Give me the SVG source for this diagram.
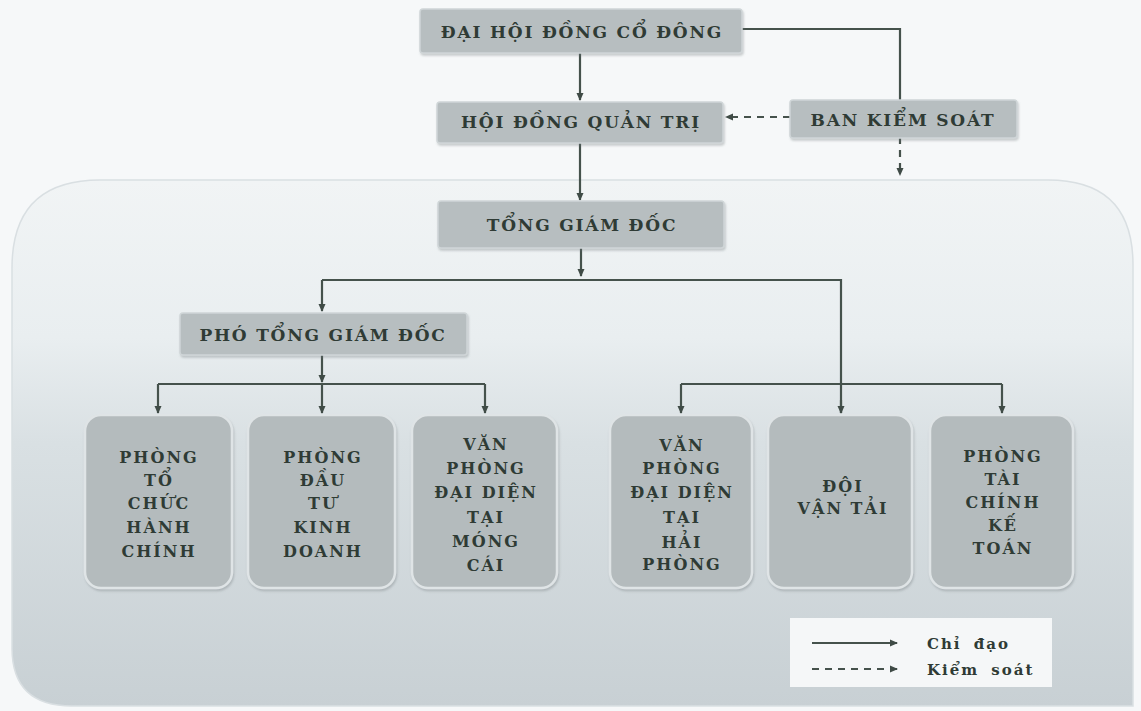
<svg xmlns="http://www.w3.org/2000/svg" width="1141" height="711" viewBox="0 0 1141 711">
<defs>
<linearGradient id="bg" x1="0" y1="0" x2="0" y2="1">
<stop offset="0" stop-color="#f1f4f5"/>
<stop offset="0.3" stop-color="#e9eef0"/>
<stop offset="0.5" stop-color="#d9e0e3"/>
<stop offset="1" stop-color="#c8d0d4"/>
</linearGradient>
<filter id="sh" x="-10%" y="-20%" width="120%" height="150%">
<feDropShadow dx="1" dy="2" stdDeviation="1.2" flood-color="#6d7678" flood-opacity="0.35"/>
</filter>
<marker id="ah" viewBox="0 0 8 8" refX="7" refY="4" markerWidth="8" markerHeight="8" markerUnits="userSpaceOnUse" orient="auto">
<path d="M0,0.5 L8,4 L0,7.5 z" fill="#3f4b46"/>
</marker>
<style>
.t{font-family:"DejaVu Serif","Liberation Serif",serif;font-weight:bold;fill:#2f3b35;text-anchor:middle}
.h{font-size:17px;letter-spacing:1.8px}
.b{font-size:16px;letter-spacing:2px}
.top{fill:#b7bec0;stroke:#cfd5d7;stroke-width:1.5;filter:url(#sh)}
.box{fill:#b4bbbd;stroke:#dfe4e6;stroke-width:2.5;filter:url(#sh)}
.c{fill:none;stroke:#45524c;stroke-width:2.2}
.d{fill:none;stroke:#45524c;stroke-width:2.2;stroke-dasharray:7 6}
.lg{font-family:"DejaVu Serif","Liberation Serif",serif;font-weight:bold;font-size:15px;fill:#2f3b35;letter-spacing:2px;word-spacing:5px}
</style>
</defs>
<rect x="0" y="0" width="1141" height="711" fill="#f6f8f9"/>
<path d="M100,180 H1048 Q1133,180 1133,265 V706 H72 Q12,706 12,648 V268 Q12,180 100,180 Z" fill="url(#bg)" stroke="#d9dfe2" stroke-width="1.5"/>

<g id="connectors">
<path class="c" d="M742,29 H900 V100"/>
<path class="c" d="M580,53 V100" marker-end="url(#ah)"/>
<path class="d" d="M790,117 H726" marker-end="url(#ah)"/>
<path class="d" d="M900,137 V175" marker-end="url(#ah)"/>
<path class="c" d="M580,143 V200" marker-end="url(#ah)"/>
<path class="c" d="M581,248 V276" marker-end="url(#ah)"/>
<path class="c" d="M322,280 H841 V413"/>
<path class="c" d="M322,280 V311" marker-end="url(#ah)"/>
<path class="c" d="M841,400 V413" marker-end="url(#ah)"/>
<path class="c" d="M322,355 V382" marker-end="url(#ah)"/>
<path class="c" d="M158,384 H485"/>
<path class="c" d="M158,384 V413" marker-end="url(#ah)"/>
<path class="c" d="M322,384 V413" marker-end="url(#ah)"/>
<path class="c" d="M485,384 V413" marker-end="url(#ah)"/>
<path class="c" d="M681,384 H1002"/>
<path class="c" d="M681,384 V413" marker-end="url(#ah)"/>
<path class="c" d="M1002,384 V413" marker-end="url(#ah)"/>
</g>

<g id="dhdcd">
<rect class="top" x="420" y="9" width="322" height="44" rx="3"/>
<text class="t h" x="582" y="38">ĐẠI HỘI ĐỒNG CỔ ĐÔNG</text>
</g>
<g id="hdqt">
<rect class="top" x="437" y="102" width="286" height="41" rx="3"/>
<text class="t h" x="581" y="128">HỘI ĐỒNG QUẢN TRỊ</text>
</g>
<g id="bks">
<rect class="top" x="790" y="100" width="227" height="38" rx="3"/>
<text class="t h" x="903" y="126">BAN KIỂM SOÁT</text>
</g>
<g id="tgd">
<rect class="top" x="438" y="201" width="286" height="47" rx="3"/>
<text class="t h" x="582" y="231">TỔNG GIÁM ĐỐC</text>
</g>
<g id="ptgd">
<rect class="top" x="180" y="313" width="287" height="42" rx="3"/>
<text class="t h" x="323" y="341">PHÓ TỔNG GIÁM ĐỐC</text>
</g>

<g id="p-tchc">
<rect class="box" x="85" y="415" width="147" height="173" rx="16"/>
<text class="t b" x="159" y="463">PHÒNG</text>
<text class="t b" x="159" y="486">TỔ</text>
<text class="t b" x="159" y="509">CHỨC</text>
<text class="t b" x="159" y="533">HÀNH</text>
<text class="t b" x="159" y="557">CHÍNH</text>
</g>
<g id="p-dtkd">
<rect class="box" x="248" y="415" width="147" height="173" rx="16"/>
<text class="t b" x="323" y="463">PHÒNG</text>
<text class="t b" x="323" y="486">ĐẦU</text>
<text class="t b" x="323" y="509">TƯ</text>
<text class="t b" x="323" y="533">KINH</text>
<text class="t b" x="323" y="557">DOANH</text>
</g>
<g id="vp-mc">
<rect class="box" x="412" y="415" width="145" height="173" rx="16"/>
<text class="t b" x="486" y="450">VĂN</text>
<text class="t b" x="486" y="474">PHÒNG</text>
<text class="t b" x="486" y="498">ĐẠI DIỆN</text>
<text class="t b" x="486" y="523">TẠI</text>
<text class="t b" x="486" y="547">MÓNG</text>
<text class="t b" x="486" y="571">CÁI</text>
</g>
<g id="vp-hp">
<rect class="box" x="610" y="415" width="142" height="173" rx="16"/>
<text class="t b" x="682" y="451">VĂN</text>
<text class="t b" x="682" y="474">PHÒNG</text>
<text class="t b" x="682" y="498">ĐẠI DIỆN</text>
<text class="t b" x="682" y="523">TẠI</text>
<text class="t b" x="682" y="548">HẢI</text>
<text class="t b" x="682" y="570">PHÒNG</text>
</g>
<g id="dvt">
<rect class="box" x="768" y="415" width="144" height="173" rx="16"/>
<text class="t b" x="843" y="492">ĐỘI</text>
<text class="t b" x="843" y="514">VẬN TẢI</text>
</g>
<g id="p-tckt">
<rect class="box" x="930" y="415" width="143" height="173" rx="16"/>
<text class="t b" x="1003" y="462">PHÒNG</text>
<text class="t b" x="1003" y="485">TÀI</text>
<text class="t b" x="1003" y="508">CHÍNH</text>
<text class="t b" x="1003" y="531">KẾ</text>
<text class="t b" x="1003" y="554">TOÁN</text>
</g>

<g id="legend">
<rect x="790" y="618" width="262" height="69" fill="#f5f7f8"/>
<path class="c" d="M812,643 H897" marker-end="url(#ah)"/>
<path class="d" d="M812,669 H897" stroke-dasharray="4 4" marker-end="url(#ah)"/>
<text class="lg" x="927" y="649">Chỉ đạo</text>
<text class="lg" x="927" y="675">Kiểm soát</text>
</g>
</svg>
